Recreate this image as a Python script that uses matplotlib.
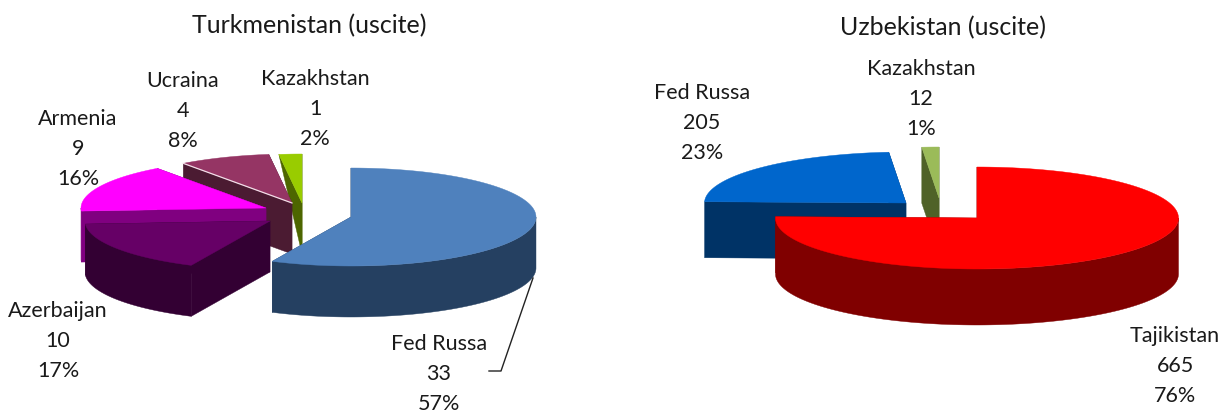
import numpy as np
import matplotlib
matplotlib.use("Agg")
import matplotlib.pyplot as plt
from matplotlib.patches import Polygon

# ---- data ----
left_title = "Turkmenistan (uscite)"
left_names = ["Fed Russa", "Azerbaijan", "Armenia", "Ucraina", "Kazakhstan"]
left_values = [33, 10, 9, 4, 1]
left_percents = [57, 17, 16, 8, 2]

right_title = "Uzbekistan (uscite)"
right_names = ["Tajikistan", "Fed Russa", "Kazakhstan"]
right_values = [665, 205, 12]
right_percents = [76, 23, 1]

# ---- style ----
left_top = ["#4F81BD", "#660066", "#FF00FF", "#953564", "#99CC00"]
left_wall = ["#254061", "#330033", "#800080", "#4B1B32", "#4D6600"]
right_top = ["#FF0000", "#0066CC", "#9BBB59"]
right_wall = ["#800000", "#003366", "#4F6228"]

FONT = "Lato"
FS = 15.5
FS_TITLE = 18
TEXT = "#1a1a1a"
LINE_STEP = 30

fig = plt.figure(figsize=(12.25, 4.12), dpi=100)
ax = fig.add_axes([0, 0, 1, 1])
ax.set_xlim(0, 1225)
ax.set_ylim(412, 0)
ax.axis("off")


def pie3d(weights, tips, rx, ry, depth, tops, walls, order, rim=None, light=()):
    """Exploded pie; angles run clockwise from 12 o'clock, shares come from weights."""
    w = np.asarray(weights, float)
    edges = np.concatenate([[0], np.cumsum(w) / w.sum() * 2 * np.pi])
    z = 2
    for i in order:
        cx, cy = tips[i]
        a0, a1 = edges[i], edges[i + 1]
        rim_d = depth if rim is None else rim[i]
        # radial walls
        for a in (a0, a1):
            ex, ey = cx + rx * np.sin(a), cy - ry * np.cos(a)
            ax.add_patch(Polygon([(cx, cy), (ex, ey), (ex, ey + rim_d), (cx, cy + depth)],
                                 fc=walls[i], ec=walls[i], lw=0.3, zorder=z))
        # outer wall: only the part of the rim that faces the viewer
        lo, hi = max(a0, np.pi / 2), min(a1, 3 * np.pi / 2)
        if hi > lo:
            t = np.linspace(lo, hi, 120)
            qx = cx + rx * np.sin(t)
            qy = cy - ry * np.cos(t)
            ax.add_patch(Polygon(np.r_[np.c_[qx, qy], np.c_[qx, qy + depth][::-1]],
                                 fc=walls[i], ec=walls[i], lw=0.3, zorder=z))
        # top face
        th = np.linspace(a0, a1, 160)
        px = cx + rx * np.sin(th)
        py = cy - ry * np.cos(th)
        ax.add_patch(Polygon(np.r_[[(cx, cy)], np.c_[px, py]],
                             fc=tops[i], ec=tops[i], lw=0.3, zorder=z))
        if i in light:
            ax.plot([cx, px[0]], [cy, py[0]], color="#F3DDE8", lw=0.9, zorder=z)
        z += 1


def label(x, y, name, val, pct):
    for k, s in enumerate([name, str(val), f"{pct}%"]):
        ax.text(x, y + k * LINE_STEP, s, ha="center", va="center", fontsize=FS,
                family=FONT, color=TEXT, zorder=30)


# left pie
left_tips = [(351, 217), (270, 221), (266, 208), (292, 203), (302, 203)]
pie3d(left_percents, left_tips, 185, 49, 51, left_top, left_wall, [4, 3, 2, 1, 0],
      rim=[51, 51, 51, 51, 0], light=(3,))
# right pie
right_tips = [(977, 218), (906, 203), (939, 198)]
pie3d(right_values, right_tips, 201.5, 51, 56, right_top, right_wall, [2, 1, 0])

ax.text(309.5, 26, left_title, ha="center", va="center", fontsize=FS_TITLE, family=FONT, color=TEXT)
ax.text(943, 28, right_title, ha="center", va="center", fontsize=FS_TITLE, family=FONT, color=TEXT)

left_pos = [(439, 343.5), (58, 311), (78, 119), (183, 81), (315, 79)]
for p, n, v, c in zip(left_pos, left_names, left_values, left_percents):
    label(p[0], p[1], n, v, c)
right_pos = [(1175, 336), (702, 93), (921, 69)]
for p, n, v, c in zip(right_pos, right_names, right_values, right_percents):
    label(p[0], p[1], n, v, c)

ax.plot([533, 501, 489], [278, 371, 371], color="#222222", lw=1, zorder=25)

fig.savefig("out.png", dpi=100)
